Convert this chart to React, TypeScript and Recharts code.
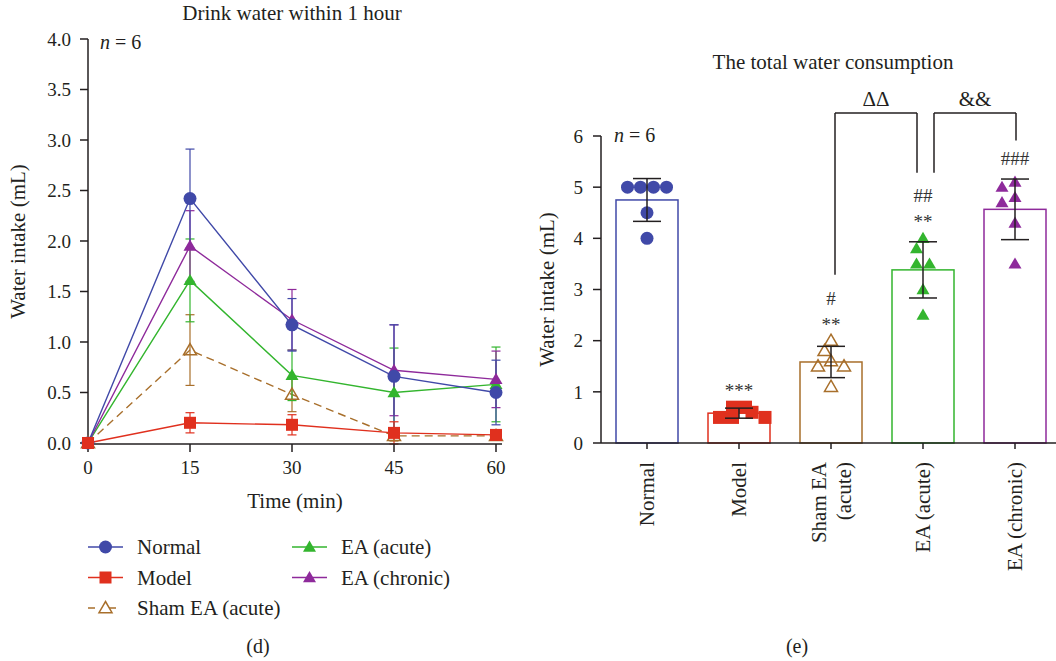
import React from 'react';
import {
  LineChart,
  Line,
  XAxis,
  YAxis,
  ErrorBar,
  Legend,
  Label,
  Customized,
  BarChart,
  Bar,
  ReferenceLine,
} from 'recharts';

const FONT = '"Liberation Serif", "DejaVu Serif", serif';
const INK = '#231f20';

// (d) water drunk at each time point within the first hour, mean and error
const TIMES = [0, 15, 30, 45, 60];
const NORMAL_MEAN = [0, 2.42, 1.17, 0.66, 0.5];
const NORMAL_ERR = [0, 0.49, 0.26, 0.51, 0.32];
const MODEL_MEAN = [0, 0.2, 0.18, 0.1, 0.08];
const MODEL_ERR = [0, 0.1, 0.1, 0.11, 0.05];
const SHAM_MEAN = [0, 0.92, 0.48, 0.07, 0.07];
const SHAM_ERR = [0, 0.35, 0.17, 0.05, 0.04];
const ACUTE_MEAN = [0, 1.61, 0.67, 0.5, 0.58];
const ACUTE_ERR = [0, 0.41, 0.25, 0.44, 0.37];
const CHRONIC_MEAN = [0, 1.95, 1.22, 0.72, 0.63];
const CHRONIC_ERR = [0, 0.35, 0.3, 0.45, 0.28];
const LEFT_TICKS = [0, 0.5, 1, 1.5, 2, 2.5, 3, 3.5, 4];

// (e) total consumption, one value per animal
const GROUPS = ['Normal', 'Model', 'Sham EA (acute)', 'EA (acute)', 'EA (chronic)'];
const NORMAL_PTS = [5, 5, 5, 5, 4.5, 4.0];
const MODEL_PTS = [0.7, 0.7, 0.6, 0.5, 0.5, 0.5];
const SHAM_PTS = [2.0, 1.8, 1.6, 1.5, 1.5, 1.1];
const ACUTE_PTS = [4.0, 3.8, 3.5, 3.5, 3.0, 2.5];
const CHRONIC_PTS = [5.1, 5.0, 4.8, 4.7, 4.3, 3.5];
const SIG_NOTES = [[], ['***'], ['**', '#'], ['**', '##'], ['###']];
const RIGHT_TICKS = [0, 1, 2, 3, 4, 5, 6];

// comparison brackets: groups joined, symbol, where each leg stops (mL)
const BRACKET_FROM = ['Sham EA (acute)', 'EA (acute)'];
const BRACKET_TO = ['EA (acute)', 'EA (chronic)'];
const BRACKET_TEXT = ['ΔΔ', '&&'];
const BRACKET_LEG_FROM = [3.29, 5.28];
const BRACKET_LEG_TO = [5.28, 5.91];
const BRACKET_TOP = 6.45;
const BRACKET_NUDGE = [
  [4, -6],
  [11, 1],
];

const BLUE = '#4049a8';
const RED = '#e0301e';
const BROWN = '#a86f2b';
const GREEN = '#33b52e';
const PURPLE = '#8e2a9b';

type MarkKind = 'circle' | 'square' | 'triangle' | 'openTriangle';

const SERIES = [
  { key: 'normal', name: 'Normal', color: BLUE, kind: 'circle' as MarkKind, mean: NORMAL_MEAN, err: NORMAL_ERR },
  { key: 'model', name: 'Model', color: RED, kind: 'square' as MarkKind, mean: MODEL_MEAN, err: MODEL_ERR },
  { key: 'sham', name: 'Sham EA (acute)', color: BROWN, kind: 'openTriangle' as MarkKind, mean: SHAM_MEAN, err: SHAM_ERR, dashed: true },
  { key: 'acute', name: 'EA (acute)', color: GREEN, kind: 'triangle' as MarkKind, mean: ACUTE_MEAN, err: ACUTE_ERR },
  { key: 'chronic', name: 'EA (chronic)', color: PURPLE, kind: 'triangle' as MarkKind, mean: CHRONIC_MEAN, err: CHRONIC_ERR },
];
const DRAW_ORDER = ['sham', 'acute', 'chronic', 'normal', 'model'];

const timeRows = TIMES.map((t, i) => {
  const row: Record<string, number> = { t };
  SERIES.forEach((s) => {
    row[s.key] = s.mean[i];
    row[s.key + 'Err'] = s.err[i];
  });
  return row;
});

const BAR_COLORS = [BLUE, RED, BROWN, GREEN, PURPLE];
const BAR_KINDS: MarkKind[] = ['circle', 'square', 'openTriangle', 'triangle', 'triangle'];
const groupPoints = [NORMAL_PTS, MODEL_PTS, SHAM_PTS, ACUTE_PTS, CHRONIC_PTS];

const mean = (v: number[]) => v.reduce((a, b) => a + b, 0) / v.length;
const sd = (v: number[]) => {
  const m = mean(v);
  return Math.sqrt(v.reduce((a, b) => a + (b - m) * (b - m), 0) / (v.length - 1));
};

const barRows = GROUPS.map((group, i) => ({
  group,
  mean: mean(groupPoints[i]),
  sd: sd(groupPoints[i]),
  pts: groupPoints[i],
}));

function Marker({ kind, x, y, color, size }: { kind: MarkKind; x: number; y: number; color: string; size: number }) {
  const h = size / 2;
  if (kind === 'circle') return <circle cx={x} cy={y} r={h} fill={color} />;
  if (kind === 'square') return <rect x={x - h} y={y - h} width={size} height={size} fill={color} />;
  const d = `M${x},${y - size * 0.5}L${x + h},${y + size * 0.36}L${x - h},${y + size * 0.36}Z`;
  if (kind === 'openTriangle') return <path d={d} fill="none" stroke={color} strokeWidth={1.5} />;
  return <path d={d} fill={color} />;
}

// spread tied / close values sideways so markers don't sit on each other
function swarm(py: number[], size: number): number[] {
  const order = py.map((_, i) => i).sort((a, b) => py[a] - py[b]);
  const dx = new Array(py.length).fill(0);
  const placed: number[] = [];
  const step = size / 2;
  const minDist = size * 0.85;
  order.forEach((i) => {
    for (let k = 0; k < 20; k++) {
      const c = k === 0 ? 0 : (k % 2 === 1 ? -1 : 1) * Math.ceil(k / 2) * step;
      const ok = placed.every((j) => Math.hypot(dx[j] - c, py[j] - py[i]) >= minDist);
      if (ok) {
        dx[i] = c;
        break;
      }
    }
    placed.push(i);
  });
  // center rows of identical values under the column
  const seen = new Set<number>();
  py.forEach((v) => {
    if (seen.has(v)) return;
    seen.add(v);
    const idx = py.map((w, i) => (w === v ? i : -1)).filter((i) => i >= 0);
    if (idx.length < 2) return;
    const shift = mean(idx.map((i) => dx[i]));
    idx.forEach((i) => (dx[i] -= shift));
  });
  return dx;
}

function ColumnMark(props: any) {
  const { x, y, width, height, payload, index } = props;
  const color = BAR_COLORS[index];
  const base = y + height;
  const k = height / payload.mean;
  const toPx = (v: number) => base - v * k;
  const size = 13;
  const pys = payload.pts.map(toPx);
  const dxs = swarm(pys, size);
  const cx = x + width / 2;
  const top = Math.min(toPx(payload.mean + payload.sd), Math.min(...pys));
  return (
    <g>
      <rect x={x} y={y} width={width} height={height} fill="#fff" stroke={color} strokeWidth={1.5} />
      {pys.map((p: number, i: number) => (
        <Marker key={i} kind={BAR_KINDS[index]} x={cx + dxs[i]} y={p} color={color} size={size} />
      ))}
      {SIG_NOTES[index].map((note, i) => (
        <text
          key={note}
          x={cx}
          y={top - 20 - i * 22 + (note.startsWith('*') ? 10 : 6)}
          textAnchor="middle"
          fontSize={19}
          fontFamily={FONT}
          fill="#333"
        >
          {note}
        </text>
      ))}
    </g>
  );
}

function GroupTick({ x, y, payload }: any) {
  const words = String(payload.value).split(' ');
  const lines = words.length > 2 ? [words.slice(0, -1).join(' '), words[words.length - 1]] : [payload.value];
  return (
    <text transform={`translate(${x},${y}) rotate(-90)`} textAnchor="end" fontSize={21} fontFamily={FONT} fill={INK}>
      {lines.map((l: string, i: number) => (
        <tspan key={i} x={0} y={(i - (lines.length - 1) / 2) * 25} dy="0.35em">
          {l}
        </tspan>
      ))}
    </text>
  );
}

const yTitle = (x: number) => (p: any) => {
  const vb = p.viewBox;
  const cy = vb.y + vb.height / 2;
  return (
    <text
      x={x}
      y={cy}
      transform={`rotate(-90, ${x}, ${cy})`}
      textAnchor="middle"
      dominantBaseline="central"
      fontSize={21}
      fontFamily={FONT}
      fill={INK}
    >
      Water intake (mL)
    </text>
  );
};

function SeriesLegend() {
  const cells = [
    { s: SERIES[0], col: 0, row: 0 },
    { s: SERIES[1], col: 0, row: 1 },
    { s: SERIES[2], col: 0, row: 2 },
    { s: SERIES[3], col: 1, row: 0 },
    { s: SERIES[4], col: 1, row: 1 },
  ];
  return (
    <svg width={420} height={100} style={{ overflow: 'visible' }}>
      {cells.map(({ s, col, row }) => {
        const x0 = 18 + col * 204;
        const y = 19 + row * 30.5;
        return (
          <g key={s.key}>
            <line
              x1={x0}
              x2={x0 + 35}
              y1={y}
              y2={y}
              stroke={s.color}
              strokeWidth={1.5}
              strokeDasharray={s.dashed ? '7 14 7' : undefined}
            />
            <Marker kind={s.kind} x={x0 + 17.5} y={y} color={s.color} size={s.kind === 'square' ? 12 : 13} />
            <text x={x0 + 49} y={y} dominantBaseline="central" fontSize={21} fontFamily={FONT} fill={INK}>
              {s.name}
            </text>
          </g>
        );
      })}
    </svg>
  );
}

const LeftNotes = () => (
  <g fontFamily={FONT} fill={INK}>
    <text x={292} y={13} textAnchor="middle" dominantBaseline="central" fontSize={21}>
      Drink water within 1 hour
    </text>
    <text x={100} y={42} dominantBaseline="central" fontSize={20}>
      <tspan fontStyle="italic">n</tspan> = 6
    </text>
    <text x={258} y={646} textAnchor="middle" dominantBaseline="central" fontSize={20}>
      (d)
    </text>
  </g>
);

const RightNotes = () => (
  <g fontFamily={FONT} fill={INK}>
    <text x={303} y={62} textAnchor="middle" dominantBaseline="central" fontSize={21}>
      The total water consumption
    </text>
    <text x={84} y={135} dominantBaseline="central" fontSize={20}>
      <tspan fontStyle="italic">n</tspan> = 6
    </text>
    <text x={267} y={646} textAnchor="middle" dominantBaseline="central" fontSize={20}>
      (e)
    </text>
  </g>
);

const tickStyle = { fontSize: 19, fill: INK, fontFamily: FONT };

function DrinkChart() {
  return (
    <LineChart width={530} height={661} data={timeRows} margin={{ top: 39, right: 28, bottom: 187, left: 0 }}>
      <XAxis
        dataKey="t"
        type="number"
        domain={[0, 60]}
        ticks={TIMES}
        padding={{ left: 0, right: 6 }}
        height={30}
        tickSize={8}
        tickMargin={9}
        tick={tickStyle}
        axisLine={{ stroke: INK, strokeWidth: 1.5 }}
        tickLine={{ stroke: INK, strokeWidth: 1.5 }}
      >
        <Label value="Time (min)" position="bottom" offset={19} fontSize={21} fontFamily={FONT} fill={INK} />
      </XAxis>
      <YAxis
        type="number"
        domain={[0, 4]}
        ticks={LEFT_TICKS}
        tickFormatter={(v: number) => v.toFixed(1)}
        width={88}
        tickSize={8}
        tickMargin={9}
        tick={tickStyle}
        axisLine={{ stroke: INK, strokeWidth: 1.5 }}
        tickLine={{ stroke: INK, strokeWidth: 1.5 }}
      >
        <Label content={yTitle(18)} />
      </YAxis>
      {DRAW_ORDER.map((k) => {
        const s = SERIES.find((e) => e.key === k)!;
        return (
          <Line
            key={s.key}
            dataKey={s.key}
            name={s.name}
            stroke={s.color}
            strokeWidth={1.4}
            strokeDasharray={s.dashed ? '8 5' : undefined}
            isAnimationActive={false}
            activeDot={false}
            dot={(p: any) => (
              <Marker
                key={`${s.key}-${p.index}`}
                kind={s.kind}
                x={p.cx}
                y={p.cy}
                color={s.color}
                size={s.kind === 'square' ? 12 : 13}
              />
            )}
          >
            <ErrorBar dataKey={s.key + 'Err'} direction="y" width={4.5} stroke={s.color} strokeWidth={1.2} />
          </Line>
        );
      })}
      <Legend
        content={() => <SeriesLegend />}
        layout="horizontal"
        verticalAlign="middle"
        align="center"
        wrapperStyle={{ left: 70, top: 528, width: 420, height: 100 }}
      />
      <Customized component={LeftNotes} />
    </LineChart>
  );
}

function TotalChart() {
  return (
    <BarChart width={531} height={661} data={barRows} margin={{ top: 136, right: 0, bottom: 98, left: 0 }}>
      <XAxis
        dataKey="group"
        type="category"
        interval={0}
        height={120}
        tickSize={6}
        tickMargin={13}
        tick={<GroupTick />}
        axisLine={{ stroke: INK, strokeWidth: 1.5 }}
        tickLine={{ stroke: INK, strokeWidth: 1.5 }}
      />
      <YAxis
        type="number"
        domain={[0, 6]}
        ticks={RIGHT_TICKS}
        width={71}
        tickSize={8}
        tickMargin={10}
        tick={tickStyle}
        axisLine={{ stroke: INK, strokeWidth: 1.5 }}
        tickLine={{ stroke: INK, strokeWidth: 1.5 }}
      >
        <Label content={yTitle(17)} />
      </YAxis>
      <Bar dataKey="mean" barSize={62} shape={ColumnMark} isAnimationActive={false}>
        <ErrorBar dataKey="sd" direction="y" width={14} stroke={INK} strokeWidth={1.5} />
      </Bar>
      {BRACKET_TEXT.map((text, i) => {
        const [da, db] = BRACKET_NUDGE[i];
        const seg = (dx1: number, dx2: number) => (p: any) => (
          <line x1={p.x1 + dx1} y1={p.y1} x2={p.x2 + dx2} y2={p.y2} stroke={INK} strokeWidth={1.5} />
        );
        return (
          <React.Fragment key={text}>
            <ReferenceLine
              ifOverflow="visible"
              segment={[
                { x: BRACKET_FROM[i], y: BRACKET_TOP },
                { x: BRACKET_TO[i], y: BRACKET_TOP },
              ]}
              shape={seg(da, db)}
              label={{
                value: text,
                position: 'top',
                offset: 7,
                dx: (da + db) / 2,
                fontSize: 21,
                fontFamily: FONT,
                fill: INK,
              }}
            />
            <ReferenceLine
              ifOverflow="visible"
              segment={[
                { x: BRACKET_FROM[i], y: BRACKET_TOP },
                { x: BRACKET_FROM[i], y: BRACKET_LEG_FROM[i] },
              ]}
              shape={seg(da, da)}
            />
            <ReferenceLine
              ifOverflow="visible"
              segment={[
                { x: BRACKET_TO[i], y: BRACKET_TOP },
                { x: BRACKET_TO[i], y: BRACKET_LEG_TO[i] },
              ]}
              shape={seg(db, db)}
            />
          </React.Fragment>
        );
      })}
      <Customized component={RightNotes} />
    </BarChart>
  );
}

export default function App() {
  return (
    <div
      style={{
        position: 'absolute',
        left: 0,
        top: 0,
        width: 1056,
        height: 661,
        overflow: 'hidden',
        background: '#fff',
        fontFamily: FONT,
      }}
    >
      <div style={{ position: 'absolute', left: 0, top: 0 }}>
        <DrinkChart />
      </div>
      <div style={{ position: 'absolute', left: 530, top: 0 }}>
        <TotalChart />
      </div>
    </div>
  );
}
